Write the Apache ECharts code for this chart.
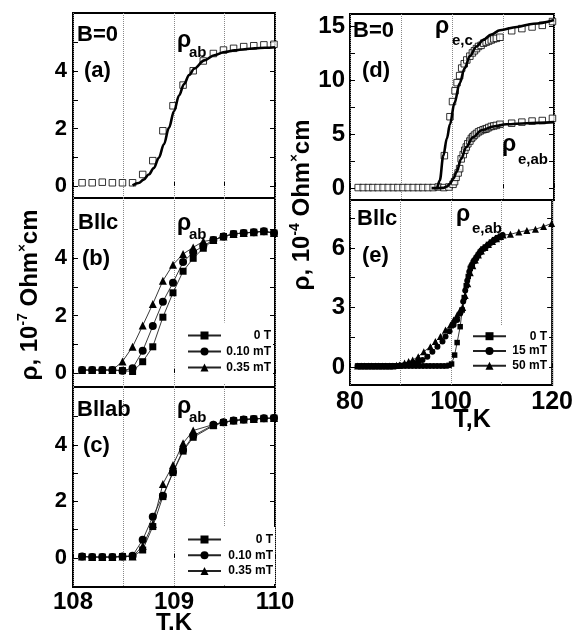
<!DOCTYPE html>
<html><head><meta charset="utf-8">
<script src="https://cdn.jsdelivr.net/npm/echarts@6/dist/echarts.min.js"></script>
<style>html,body{margin:0;padding:0;background:#fff}#c{width:576px;height:637px}</style>
</head><body><div id="c"></div>
<script>
// ---------------- DATA ----------------
// Panel (a): B=0, rho_ab, open squares + fit
const aT   = [108.09,108.19,108.29,108.39,108.49,108.59,108.69,108.79,108.89,108.99,109.09,109.19,109.29,109.39,109.49,109.59,109.69,109.79,109.89,109.99];
const aRho = [0.11,0.11,0.13,0.11,0.11,0.11,0.40,0.88,1.92,2.79,3.51,4.01,4.35,4.61,4.73,4.79,4.85,4.88,4.91,4.93];
const aFitT = [108.59,108.65,108.70,108.75,108.80,108.85,108.90,108.95,109.00,109.05,109.10,109.15,109.20,109.30,109.40,109.50,109.60,109.70,109.80,109.90,110.00];
const aFit  = [0.02,0.10,0.22,0.40,0.62,0.98,1.45,2.02,2.60,3.15,3.55,3.86,4.08,4.37,4.55,4.66,4.72,4.76,4.79,4.81,4.83];

// Panel (b): B||c
const bT   = [108.09,108.19,108.29,108.39,108.49,108.59,108.69,108.79,108.89,108.99,109.09,109.19,109.29,109.39,109.49,109.59,109.69,109.79,109.89,109.99];
const b0   = [0.10,0.10,0.10,0.10,0.08,0.05,0.39,0.91,1.94,2.79,3.54,3.99,4.34,4.63,4.75,4.84,4.87,4.90,4.93,4.87];
const b010 = [0.10,0.10,0.10,0.10,0.08,0.16,0.77,1.63,2.48,3.14,3.86,4.20,4.42,4.63,4.75,4.84,4.87,4.90,4.93,4.87];
const b035 = [0.10,0.10,0.10,0.10,0.40,0.91,1.65,2.40,3.21,3.77,4.14,4.37,4.58,4.63,4.75,4.84,4.87,4.90,4.93,4.87];

// Panel (c): B||ab
const cT   = [108.09,108.19,108.29,108.39,108.49,108.59,108.69,108.79,108.89,108.99,109.09,109.19,109.39,109.49,109.59,109.69,109.79,109.89,109.99];
const c0   = [0.05,0.03,0.03,0.03,0.05,0.05,0.28,1.11,2.17,3.02,3.78,4.27,4.68,4.79,4.86,4.90,4.92,4.94,4.95];
const c010 = [0.05,0.03,0.03,0.03,0.05,0.08,0.64,1.46,2.20,3.04,3.82,4.32,4.71,4.80,4.86,4.90,4.92,4.94,4.95];
const c035 = [0.05,0.03,0.03,0.03,0.05,0.05,0.42,1.20,2.62,3.29,4.06,4.51,4.72,4.81,4.86,4.90,4.92,4.94,4.95];

// Panel (d): B=0, rho_e,c and rho_e,ab
const dcT = [81.6,82.6,83.6,84.5,85.5,86.5,87.5,88.5,89.4,90.4,91.4,92.4,93.4,94.3,95.3,96.3,97.3,98.5,99.6,100.1,100.6,101.0,101.5,101.9,102.4,102.9,103.5,104.0,104.4,104.8,105.2,105.7,106.2,106.7,107.2,107.7,108.2,108.7,109.4,111.7,113.7,115.7,117.7,119.7];
const dcV = [0.05,0.05,0.05,0.05,0.05,0.05,0.05,0.05,0.05,0.05,0.05,0.05,0.05,0.05,0.05,0.05,0.10,3.0,6.6,8.0,9.0,9.75,10.4,11.1,11.5,11.85,12.2,12.5,12.7,12.9,13.1,13.2,13.4,13.5,13.6,13.7,13.8,13.85,13.95,14.55,14.75,14.9,15.05,15.4];
const dabT = [98.4,99.4,100.2,100.5,100.8,101.2,101.5,101.8,102.2,102.5,102.8,103.1,103.5,103.8,104.1,104.4,104.8,105.2,105.6,106.1,106.5,106.8,107.2,107.7,108.2,108.7,109.4,111.7,113.7,115.7,117.7,119.7];
const dabV = [0.05,0.10,0.35,0.60,1.0,1.4,1.8,2.7,3.1,3.5,3.8,4.1,4.35,4.6,4.75,4.9,5.05,5.2,5.3,5.4,5.45,5.5,5.6,5.7,5.75,5.8,5.9,6.0,6.1,6.2,6.25,6.45];
const dcFitT = [96.0,97.0,97.6,98.3,99.0,99.6,100.5,101.5,102.5,103.5,104.8,106.1,107.7,109.4,112.7,116.0,120.0];
const dcFit  = [0.0,0.0,0.7,3.0,4.6,5.9,7.9,9.7,11.1,12.2,13.1,13.7,14.2,14.6,14.9,15.2,15.55];
const dabFitT = [97.0,98.3,99.0,99.6,100.3,100.9,101.8,102.8,104.1,105.8,108.1,110.7,114.6,120.0];
const dabFit  = [0.0,0.02,0.15,0.4,0.9,1.5,2.7,3.8,4.7,5.35,5.7,5.9,6.0,6.1];

// Panel (e): B||c, rho_e,ab
const e0T  = [81.5,82.2,82.9,83.6,84.3,85.0,85.7,86.4,87.1,87.8,88.5,89.2,89.9,90.6,91.3,92.0,92.7,93.4,94.1,94.8,95.5,96.2,96.9,97.6,98.3,99.0,99.6,100.1,100.7,101.2,101.8,102.2,102.6,103.0,103.4,103.8,104.2,104.6,105.0,105.4,105.8,106.3,106.8,107.4,108.0,108.6,109.2,109.8];
const e0V  = [0.05,0.05,0.05,0.05,0.05,0.05,0.05,0.05,0.05,0.05,0.05,0.05,0.05,0.05,0.05,0.05,0.05,0.05,0.05,0.05,0.05,0.05,0.05,0.05,0.05,0.05,0.08,0.15,0.60,1.23,2.03,2.87,3.5,4.1,4.56,4.97,5.15,5.35,5.5,5.65,5.8,5.95,6.05,6.18,6.3,6.42,6.52,6.6];
const e15T = [81.5,82.2,82.9,83.6,84.3,85.0,85.7,86.4,87.1,87.8,88.5,89.2,89.9,90.6,91.3,92.0,92.8,93.6,94.35,95.3,96.3,97.3,98.3,98.9,99.7,100.5,101.2,101.8,102.4,102.8,103.2,103.6,104.0,104.4,104.8,105.2,105.6,106.0,106.6,107.2,107.8,108.4,109.0,109.6,110.2];
const e15V = [0.05,0.05,0.05,0.05,0.05,0.05,0.05,0.05,0.05,0.05,0.05,0.05,0.07,0.08,0.10,0.14,0.20,0.27,0.35,0.52,0.77,1.02,1.28,1.53,1.80,2.11,2.37,2.70,3.3,3.85,4.35,4.8,5.1,5.3,5.45,5.6,5.75,5.88,6.0,6.12,6.25,6.38,6.48,6.56,6.65];
const e50T = [81.5,82.2,82.9,83.6,84.3,85.0,85.7,86.4,87.1,87.8,88.5,89.2,89.8,90.8,91.6,92.4,93.5,94.6,95.9,96.9,97.9,98.9,99.9,100.5,101.2,101.8,102.3,102.8,103.3,103.8,104.3,104.8,105.4,106.0,106.7,107.4,108.2,109.0,109.8,110.3,111.75,113.4,115.0,116.7,118.3,119.9];
const e50V = [0.05,0.05,0.05,0.05,0.05,0.05,0.05,0.05,0.05,0.05,0.05,0.08,0.10,0.20,0.27,0.35,0.52,0.77,1.02,1.28,1.53,1.87,2.12,2.37,2.62,2.87,3.0,3.6,4.2,4.75,5.1,5.4,5.65,5.85,6.02,6.18,6.33,6.47,6.58,6.65,6.69,6.8,6.88,6.95,7.08,7.24];

// Tick labels
const xLabelsLeft  = [108,109,110];
const xLabelsRight = [80,100,120];
const yLabelsABC = [0,2,4];
const yTicksABC  = [0,1,2,3,4,5];
const yLabelsD = [0,5,10,15];
const yTicksD  = [0,2.5,5,7.5,10,12.5,15];
const yLabelsE = [0,3,6];
const yTicksE  = [0,1.5,3,4.5,6,7.5];

// ---------------- CHART ----------------
const FF = '"Liberation Sans", Arial, Helvetica, sans-serif';
const pairs = (xs, ys) => xs.map((x, i) => [x, ys[i]]);
const chart = echarts.init(document.getElementById('c'));

const gridBoxes = [
  {left:73,  top:13,  width:202, height:185},
  {left:73,  top:198, width:202, height:189},
  {left:73,  top:387, width:202, height:200},
  {left:350, top:14,  width:204, height:186},
  {left:350, top:200, width:204, height:185}
];
const yRanges = [[-0.42,6.02],[-0.49,6.09],[-1.03,6.05],[-1.1,16.1],[-0.91,8.42]];
const yLabs = [yLabelsABC,yLabelsABC,yLabelsABC,yLabelsD,yLabelsE];
const yTks  = [yTicksABC,yTicksABC,yTicksABC,yTicksD,yTicksE];

const grid = gridBoxes.map(g => Object.assign({show:true, borderColor:'#000', borderWidth:2, backgroundColor:'transparent', containLabel:false}, g));

const xAxis = gridBoxes.map((g, i) => {
  const leftCol = i < 3;
  return {
    gridIndex:i, type:'value',
    min: leftCol ? 108 : 80, max: leftCol ? 110 : 120, interval: leftCol ? 0.5 : 10,
    axisLine:{show:false},
    axisTick:{show:true, inside:true, length:4, lineStyle:{color:'#000', width:1}},
    axisLabel:{show: i === 2 || i === 4, customValues: leftCol ? xLabelsLeft : xLabelsRight,
      color:'#000', fontFamily:FF, fontWeight:'bold', fontSize: leftCol ? 24 : 25, margin: leftCol ? 3 : 5},
    splitLine:{show:true, lineStyle:{color:'#888', type:'dotted', width:1}}
  };
});

const yAxis = [];
gridBoxes.forEach((g, i) => {
  const leftCol = i < 3;
  yAxis.push({
    gridIndex:i, type:'value', position:'left', min:yRanges[i][0], max:yRanges[i][1],
    axisLine:{show:false}, splitLine:{show:false},
    axisTick:{show:true, inside:true, length:5, customValues:yTks[i], lineStyle:{color:'#000', width:1}},
    axisLabel:{customValues:yLabs[i], color:'#000', fontFamily:FF, fontWeight:'bold', fontSize: leftCol ? 22 : 24, margin: leftCol ? 6 : 5}
  });
  yAxis.push({
    gridIndex:i, type:'value', position:'right', min:yRanges[i][0], max:yRanges[i][1],
    axisLine:{show:false}, splitLine:{show:false},
    axisTick:{show:true, inside:true, length:5, customValues:yTks[i], lineStyle:{color:'#000', width:1}},
    axisLabel:{show:false}
  });
});

const openSq = (gi, xs, ys) => ({type:'scatter', xAxisIndex:gi, yAxisIndex:2*gi, data:pairs(xs, ys),
  symbol:'rect', symbolSize:6.5, itemStyle:{color:'#fff', borderColor:'#000', borderWidth:1}, z:3, silent:true});
const fit = (gi, xs, ys) => ({type:'line', xAxisIndex:gi, yAxisIndex:2*gi, data:pairs(xs, ys),
  showSymbol:false, symbol:'none', smooth:0.35, smoothMonotone:'x', lineStyle:{color:'#000', width:2.6}, z:4, silent:true});
const mk = (name, gi, xs, ys, sym, size) => ({name, type:'line', xAxisIndex:gi, yAxisIndex:2*gi, data:pairs(xs, ys),
  symbol:sym, symbolSize:size, showAllSymbol:true, itemStyle:{color:'#000'}, lineStyle:{color:'#222', width:0.9},
  emphasis:{disabled:true}, z:3, silent:true});

const series = [
  openSq(0, aT, aRho), fit(0, aFitT, aFit),
  mk('0 T|b', 1, bT, b0, 'rect', 7), mk('0.35 mT|b', 1, bT, b035, 'triangle', 8), mk('0.10 mT|b', 1, bT, b010, 'circle', 8),
  mk('0 T|c', 2, cT, c0, 'rect', 7), mk('0.10 mT|c', 2, cT, c010, 'circle', 8), mk('0.35 mT|c', 2, cT, c035, 'triangle', 8),
  openSq(3, dcT, dcV), openSq(3, dabT, dabV), fit(3, dcFitT, dcFit), fit(3, dabFitT, dabFit),
  mk('50 mT|e', 4, e50T, e50V, 'triangle', 7), mk('0 T|e', 4, e0T, e0V, 'rect', 5.5), mk('15 mT|e', 4, e15T, e15V, 'circle', 6)
];

const mkLegend = (names, left, top, padTop, padBottom, gap, iw, tw) => ({
  data:names, orient:'vertical', left, top, padding:[padTop,2,padBottom,6],
  itemWidth:iw, itemHeight:10, itemGap:gap, backgroundColor:'#fff', selectedMode:false, z:10,
  formatter: n => '{r|' + n.split('|')[0] + '}',
  textStyle:{rich:{r:{width:tw, align:'right', fontSize:12, fontWeight:'bold', fontFamily:FF, color:'#000', lineHeight:13}}}
});
const legend = [
  mkLegend(['0 T|b','0.10 mT|b','0.35 mT|b'], 181, 322.5, 7, 10, 4, 33, 45),
  mkLegend(['0 T|c','0.10 mT|c','0.35 mT|c'], 181, 527, 6.5, 7, 3.7, 33, 47),
  mkLegend(['0 T|e','15 mT|e','50 mT|e'], 466, 325.2, 5, 10, 2.8, 33, 36)
];

const txt = (text, x, y, fs) => ({type:'text', x, y, z:100, silent:true,
  style:{text, fill:'#000', font:'bold ' + fs + 'px ' + FF, textAlign:'left', textVerticalAlign:'middle', align:'left', verticalAlign:'middle'}});
const rich = (s) => ({
  a:{fontSize:24, fontWeight:'bold', fontFamily:FF, fill:'#000', color:'#000', lineHeight:28},
  s:{fontSize:14, fontWeight:'bold', fontFamily:FF, fill:'#000', color:'#000', lineHeight:16, verticalAlign:'top'},
  m:{fontSize:13, fontWeight:'bold', fontFamily:FF, fill:'#000', color:'#000', lineHeight:20, verticalAlign:'top'}
});
const vtitle = (x, y, exp) => ({type:'text', x, y, rotation:Math.PI/2, z:100, silent:true,
  style:{text:'{a|ρ, 10}{s|' + exp + '}{a| Ohm}{m|×}{a|cm}', rich:rich(), textAlign:'center', textVerticalAlign:'middle', align:'center', verticalAlign:'middle'}});

const graphic = [
  txt('B=0', 77, 34.5, 22), txt('(a)', 84, 71, 22),
  txt('Bllc', 78, 222.5, 22), txt('(b)', 82, 259, 22),
  txt('Bllab', 77, 409.5, 22), txt('(c)', 83, 446, 22),
  txt('B=0', 353, 31, 22), txt('(d)', 362, 71, 22),
  txt('Bllc', 357, 218.5, 22), txt('(e)', 362, 256, 22),
  txt('ρ', 177, 41, 23), txt('ab', 189, 52.5, 15),
  txt('ρ', 177, 224, 23), txt('ab', 189, 235, 15),
  txt('ρ', 177, 407, 23), txt('ab', 189, 418, 15),
  txt('ρ', 435, 27, 23), txt('e,c', 452, 41, 15),
  txt('ρ', 502, 145, 23), txt('e,ab', 518, 160, 15),
  txt('ρ', 456, 215, 23), txt('e,ab', 472, 229, 15),
  {type:'text', x:174, y:623, z:100, silent:true, style:{text:'T.K', fill:'#000', font:'bold 24px ' + FF, textAlign:'center', textVerticalAlign:'middle', align:'center', verticalAlign:'middle'}},
  {type:'text', x:472, y:420, z:100, silent:true, style:{text:'T,K', fill:'#000', font:'bold 25px ' + FF, textAlign:'center', textVerticalAlign:'middle', align:'center', verticalAlign:'middle'}},
  vtitle(30, 295, '-7'),
  vtitle(302, 205, '-4')
];

chart.setOption({animation:false, backgroundColor:'#fff', grid, xAxis, yAxis, series, legend, graphic});
</script></body></html>
